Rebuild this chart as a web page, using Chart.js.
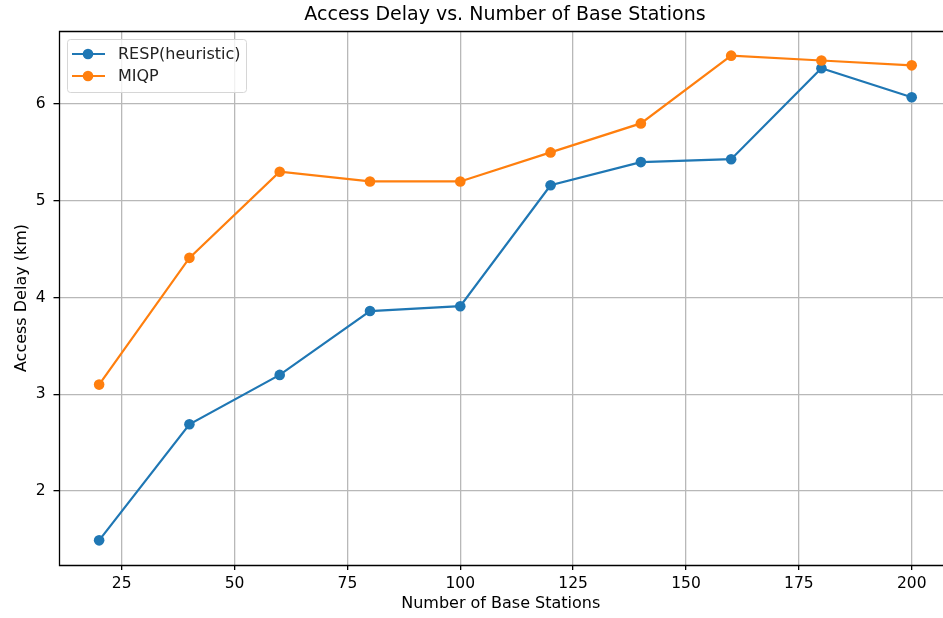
<!DOCTYPE html>
<html>
<head>
<meta charset="utf-8">
<script src="https://cdn.jsdelivr.net/npm/chart.js@4"></script>
<style>
  html, body { margin: 0; padding: 0; background: #fff; }
  #wrap { width: 943px; height: 618px; }
</style>
</head>
<body>
<div id="wrap"><canvas id="myChart" width="943" height="618"></canvas></div>
<script>
"use strict";

// data
const stations = [20, 40, 60, 80, 100, 120, 140, 160, 180, 200];
const respDelay = [1.49, 2.69, 3.20, 3.86, 3.91, 5.16, 5.40, 5.43, 6.37, 6.07];
const miqpDelay = [3.10, 4.41, 5.30, 5.20, 5.20, 5.50, 5.80, 6.50, 6.45, 6.40];
const xTicks = [25, 50, 75, 100, 125, 150, 175, 200];
const yTicks = [2, 3, 4, 5, 6];

const FONT = "'DejaVu Sans', sans-serif";

function toPoints(xs, ys) {
  return xs.map((x, i) => ({ x: x, y: ys[i] }));
}

// frame, title and matplotlib-style legend
// (the right side of the axes box is cut off in the reference picture)
const mplLook = {
  id: 'mplLook',
  afterDatasetsDraw(chart) {
    const ctx = chart.ctx;
    const a = chart.chartArea;
    const l = Math.round(a.left) + 0.5, t = Math.round(a.top) + 0.5, b = Math.round(a.bottom) + 0.5;
    ctx.save();
    ctx.strokeStyle = '#000';
    ctx.lineWidth = 1.3;
    ctx.beginPath();
    ctx.moveTo(chart.width + 2, t);
    ctx.lineTo(l, t);
    ctx.lineTo(l, b);
    ctx.lineTo(chart.width + 2, b);
    ctx.stroke();

    // title, centred on the full (uncut) axes box
    ctx.fillStyle = '#000';
    ctx.font = "19px " + FONT;
    ctx.textAlign = 'center';
    ctx.textBaseline = 'middle';
    ctx.fillText('Access Delay vs. Number of Base Stations', 505, 15);

    // legend box
    const bx = a.left + 8.5, by = a.top + 8, bw = 179, bh = 53;
    ctx.beginPath();
    ctx.roundRect(bx + 0.5, by + 0.5, bw, bh, 3);
    ctx.fillStyle = 'rgba(255,255,255,0.8)';
    ctx.fill();
    ctx.lineWidth = 1;
    ctx.strokeStyle = '#d6d6d6';
    ctx.stroke();

    ctx.font = "16px " + FONT;
    ctx.textAlign = 'left';
    chart.data.datasets.forEach((ds, i) => {
      const y = by + 15 + i * 22;
      ctx.strokeStyle = ds.borderColor;
      ctx.lineWidth = 2.2;
      ctx.beginPath();
      ctx.moveTo(bx + 5, y);
      ctx.lineTo(bx + 38, y);
      ctx.stroke();
      ctx.fillStyle = ds.borderColor;
      ctx.beginPath();
      ctx.arc(bx + 21, y, 5.3, 0, Math.PI * 2);
      ctx.fill();
      ctx.fillStyle = '#222';
      ctx.fillText(ds.label, bx + 51, y + 1);
    });
    ctx.restore();
  }
};

new Chart(document.getElementById('myChart'), {
  type: 'line',
  data: {
    datasets: [{
      label: 'RESP(heuristic)',
      data: toPoints(stations, respDelay),
      borderColor: '#1f77b4',
      backgroundColor: '#1f77b4',
      borderWidth: 2.2,
      pointRadius: 5.3,
      pointBorderWidth: 0,
      order: 1
    }, {
      label: 'MIQP',
      data: toPoints(stations, miqpDelay),
      borderColor: '#ff7f0e',
      backgroundColor: '#ff7f0e',
      borderWidth: 2.2,
      pointRadius: 5.3,
      pointBorderWidth: 0,
      order: 0
    }]
  },
  options: {
    responsive: false,
    animation: false,
    layout: { autoPadding: false, padding: { top: 31, right: 0, left: 0, bottom: 0 } },
    plugins: {
      legend: { display: false },
      title: { display: false },
      tooltip: { enabled: false }
    },
    scales: {
      x: {
        type: 'linear',
        min: 11,
        max: 206.93,
        afterBuildTicks: (s) => { s.ticks = xTicks.map(v => ({ value: v })); },
        afterFit: (s) => { s.height = 53; s.paddingLeft = 0; s.paddingRight = 0; },
        grid: { color: '#b8b8b8', lineWidth: 1.3, tickLength: 5, tickColor: '#000' },
        border: { display: false },
        ticks: { color: '#000', padding: 5, maxRotation: 0, font: { family: FONT, size: 15.5 } },
        title: {
          display: true,
          text: 'Number of Base Stations',
          color: '#000',
          font: { family: FONT, size: 16 },
          padding: { top: 0, bottom: 4.5 }
        }
      },
      y: {
        type: 'linear',
        min: 1.235,
        max: 6.755,
        afterBuildTicks: (s) => { s.ticks = yTicks.map(v => ({ value: v })); },
        afterFit: (s) => { s.width = 58.5; s.paddingTop = 0; s.paddingBottom = 0; },
        grid: { color: '#b8b8b8', lineWidth: 1.3, tickLength: 5, tickColor: '#000' },
        border: { display: false },
        ticks: { color: '#000', padding: 8, font: { family: FONT, size: 15.5 } },
        title: {
          display: true,
          text: 'Access Delay (km)',
          color: '#000',
          font: { family: FONT, size: 16 },
          padding: { top: 12.5, bottom: 0 }
        }
      }
    }
  },
  plugins: [mplLook]
});
</script>
</body>
</html>
